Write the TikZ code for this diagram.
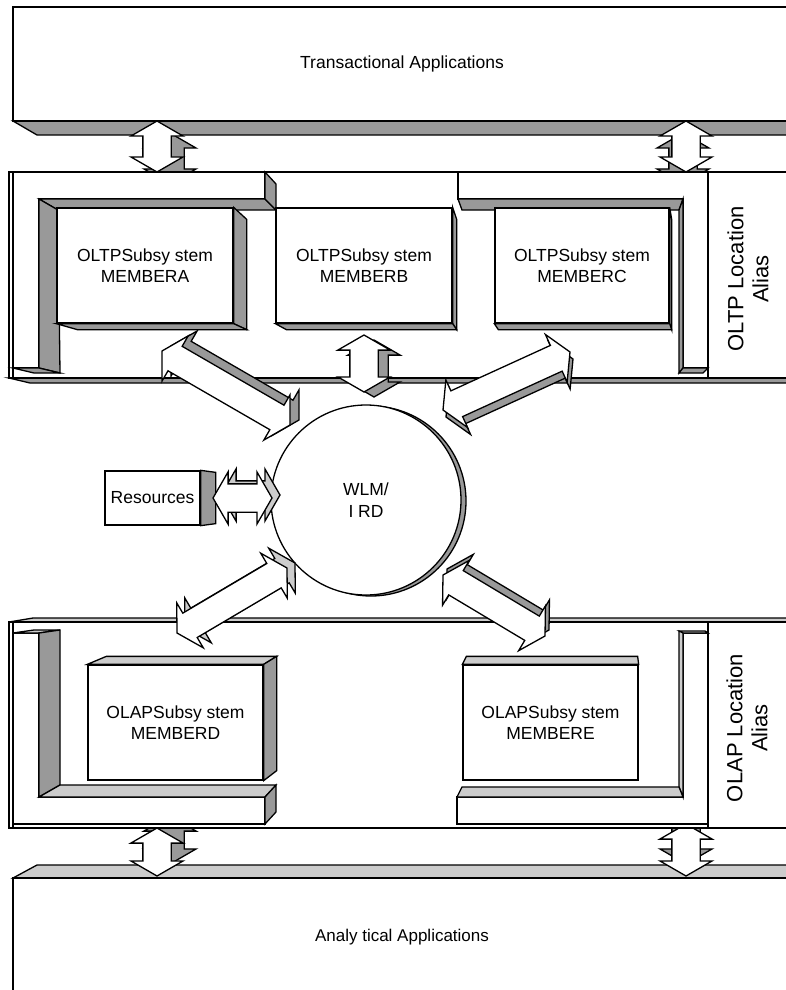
\documentclass[tikz,border=0pt]{standalone}
\usepackage{fontspec}
\setmainfont{Liberation Sans}
\usetikzlibrary{calc,shapes.arrows}

\definecolor{face-dark}{HTML}{999999}
\definecolor{face-light}{HTML}{CCCCCC}

\tikzset{
  outline/.style={draw=black, line width=1.3pt, line join=miter},
  darkface/.style={outline, fill=face-dark},
  lightface/.style={outline, fill=face-light},
  whiteface/.style={outline, fill=white},
  slab/.style={whiteface, inner sep=0pt, font=\fontsize{17.5}{21}\selectfont},
  sysbox/.style={whiteface, minimum width=176, minimum height=115, inner sep=0pt,
    align=center, font=\fontsize{17.5}{21.5}\selectfont},
  aliaslabel/.style={rotate=90, align=center, font=\fontsize{22}{25}\selectfont},
  dblarrow/.style={double arrow, outline, fill=white, inner sep=0pt, inner ysep=13.5pt,
    minimum width=0pt, double arrow head extend=12pt, double arrow tip angle=120},
}

% block arrow between two named points, with a shifted copy for depth
\newcommand{\linkarrow}[6]{%
  \path let \p1=($(#3)-(#2)$), \n1={atan2(\y1,\x1)}, \n2={veclen(\x1,\y1)} in
    node[dblarrow, fill=#6, rotate=\n1, minimum height=\n2] (#1-sh) at ($(#2)!0.5!(#3)+(#4,#5)$) {}
    node[dblarrow, rotate=\n1, minimum height=\n2] (#1) at ($(#2)!0.5!(#3)$) {};}

% side and bottom faces of a member box seen from above
\newcommand{\lowfaces}[3]{%
  \draw[darkface] (#1.north east) -- ++(#2,12) -- ($(#1.south east)+(#2,6)$) -- (#1.south east) -- cycle;
  \draw[darkface] (#1.south west) -- ++(#3,6) -- ($(#1.south east)+(#2,6)$) -- (#1.south east) -- cycle;}

\begin{document}
\begin{tikzpicture}[x=1pt,y=-1pt]
\useasboundingbox (0,0) rectangle (786,990);

% ---------- transactional applications ----------
\draw[darkface] (13,121) -- (37,135) -- (790,135) -- (790,121) -- cycle;
\node[slab, minimum width=778, minimum height=114] (trans) at (402,64) {Transactional Applications};

\coordinate (v1a) at (157,121); \coordinate (v1b) at (157,172);
\coordinate (v2a) at (686,121); \coordinate (v2b) at (686,172);
\linkarrow{v1}{v1a}{v1b}{13}{12}{face-dark}
\linkarrow{v2}{v2a}{v2b}{-3}{12}{face-dark}

% ---------- OLTP location alias ----------
\fill[white] (9,172) rectangle (790,378);
\draw[darkface] (9,378) -- (30,383) -- (790,383) -- (790,378) -- cycle;
\draw[outline] (790,172) -- (9,172) -- (9,378) -- (790,378);
\draw[outline] (13,172) -- (13,378);
\draw[outline] (708,172) -- (708,378);

% left bracket
\draw[whiteface] (13,172) -- (265,172) -- (265,199) -- (39,199) -- (39,368) -- (13,368) -- cycle;
\draw[darkface] (39,199) -- (265,199) -- (276,210) -- (58,210) -- cycle;
\draw[darkface] (265,172) -- (276,184) -- (276,210) -- (265,199) -- cycle;
\draw[darkface] (39,199) -- (58,210) -- (60,373) -- (39,368) -- cycle;
\draw[darkface] (13,368) -- (39,368) -- (60,373) -- (34,373) -- cycle;
% right bracket
\draw[whiteface] (458,172) -- (708,172) -- (708,368) -- (683,368) -- (683,199) -- (458,199) -- cycle;
\draw[darkface] (458,199) -- (683,199) -- (679,210) -- (462,210) -- cycle;
\draw[darkface] (683,199) -- (683,368) -- (679,373) -- (679,210) -- cycle;
\draw[darkface] (679,373) -- (683,368) -- (708,368) -- (703,373) -- cycle;

\node[sysbox] (mema) at (145,265.5) {OLTPSubsy stem\\MEMBERA};
\node[sysbox] (memb) at (364,265.5) {OLTPSubsy stem\\MEMBERB};
\node[sysbox, minimum width=174] (memc) at (582,265.5) {OLTPSubsy stem\\MEMBERC};
\lowfaces{mema}{13}{21}
\lowfaces{memb}{4}{11}
\lowfaces{memc}{2}{4}

\node[aliaslabel] (oltpalias) at (748,279) {OLTP Location\\Alias};

% ---------- analytical applications ----------
\draw[lightface] (13,878) -- (37,865) -- (790,865) -- (790,878) -- cycle;
\node[slab, minimum width=778, minimum height=118, font=\fontsize{17}{20}\selectfont] (anal) at (402,937) {Analy tical Applications};

\coordinate (v3a) at (157,828); \coordinate (v3b) at (157,876);
\coordinate (v4a) at (686,824); \coordinate (v4b) at (686,876);
\linkarrow{v3}{v3a}{v3b}{13}{-12}{face-dark}
\linkarrow{v4}{v4a}{v4b}{0}{-12}{face-dark}

% ---------- OLAP location alias ----------
\fill[white] (9,622) rectangle (790,828);
\draw[lightface] (9,622) -- (33,618) -- (790,618) -- (790,622) -- cycle;
\draw[outline] (790,622) -- (9,622) -- (9,828) -- (790,828);
\draw[outline] (13,622) -- (13,828);
\draw[outline] (708,622) -- (708,828);

% left bracket
\draw[whiteface] (13,633) -- (39,633) -- (39,797) -- (265,797) -- (265,824) -- (13,824) -- cycle;
\draw[lightface] (13,633) -- (34,630) -- (60,630) -- (39,633) -- cycle;
\draw[darkface] (39,633) -- (60,630) -- (60,785) -- (39,797) -- cycle;
\draw[lightface] (39,797) -- (60,785) -- (276,785) -- (265,797) -- cycle;
\draw[darkface] (265,797) -- (276,785) -- (276,812) -- (265,824) -- cycle;
% right bracket
\draw[whiteface] (683,633) -- (708,633) -- (708,824) -- (457,824) -- (457,797) -- (683,797) -- cycle;
\draw[lightface] (679,631) -- (705,631) -- (708,633) -- (683,633) -- cycle;
\draw[lightface] (679,631) -- (683,633) -- (683,797) -- (679,787) -- cycle;
\draw[lightface] (457,797) -- (462,787) -- (679,787) -- (683,797) -- cycle;

\node[sysbox, minimum width=175] (memd) at (175.5,722.5) {OLAPSubsy stem\\MEMBERD};
\node[sysbox, minimum width=175] (meme) at (550.5,722.5) {OLAPSubsy stem\\MEMBERE};
\draw[lightface] (memd.north west) -- ++(19,-8) -- ($(memd.north east)+(13,-8)$) -- (memd.north east) -- cycle;
\draw[darkface] (memd.north east) -- ++(13,-8) -- ($(memd.south east)+(13,-10)$) -- (memd.south east) -- cycle;
\draw[lightface] (meme.north west) -- ++(4,-8) -- ($(meme.north east)+(-1,-8)$) -- (meme.north east) -- cycle;

\node[aliaslabel] (olapalias) at (747,728) {OLAP Location\\Alias};

% ---------- WLM / IRD and resources ----------
\node[whiteface, minimum width=95, minimum height=54, inner sep=0pt,
  font=\fontsize{17.5}{21}\selectfont] (res) at (152.5,498) {Resources};
\draw[darkface] (res.north east) -- ++(15,2) -- ($(res.south east)+(15,-2)$) -- (res.south east) -- cycle;

\draw[darkface] (371,501) circle[radius=95];
\node[circle, whiteface, minimum size=190, inner sep=0pt, align=center,
  font=\fontsize{17.5}{21.5}\selectfont] (wlm) at (366,500) {WLM/\\I RD};

\coordinate (ha) at (213,498); \coordinate (hb) at (272,498);
\coordinate (d1a) at (162,351); \coordinate (d1b) at (290,425);
\coordinate (d2a) at (364,335); \coordinate (d2b) at (364,392);
\coordinate (d3a) at (443,410); \coordinate (d3b) at (570,352);
\coordinate (d4a) at (177,633); \coordinate (d4b) at (287,568);
\coordinate (d5a) at (443,575); \coordinate (d5b) at (545,636);
\linkarrow{h}{ha}{hb}{8}{-3}{face-light}
\linkarrow{d1}{d1a}{d1b}{9}{-5}{face-dark}
\linkarrow{d2}{d2a}{d2b}{10}{5}{face-dark}
\linkarrow{d3}{d3a}{d3b}{3}{7}{face-dark}
\linkarrow{d4}{d4a}{d4b}{8}{-5}{face-light}
\linkarrow{d5}{d5a}{d5b}{4}{-6}{face-dark}

\end{tikzpicture}
\end{document}
